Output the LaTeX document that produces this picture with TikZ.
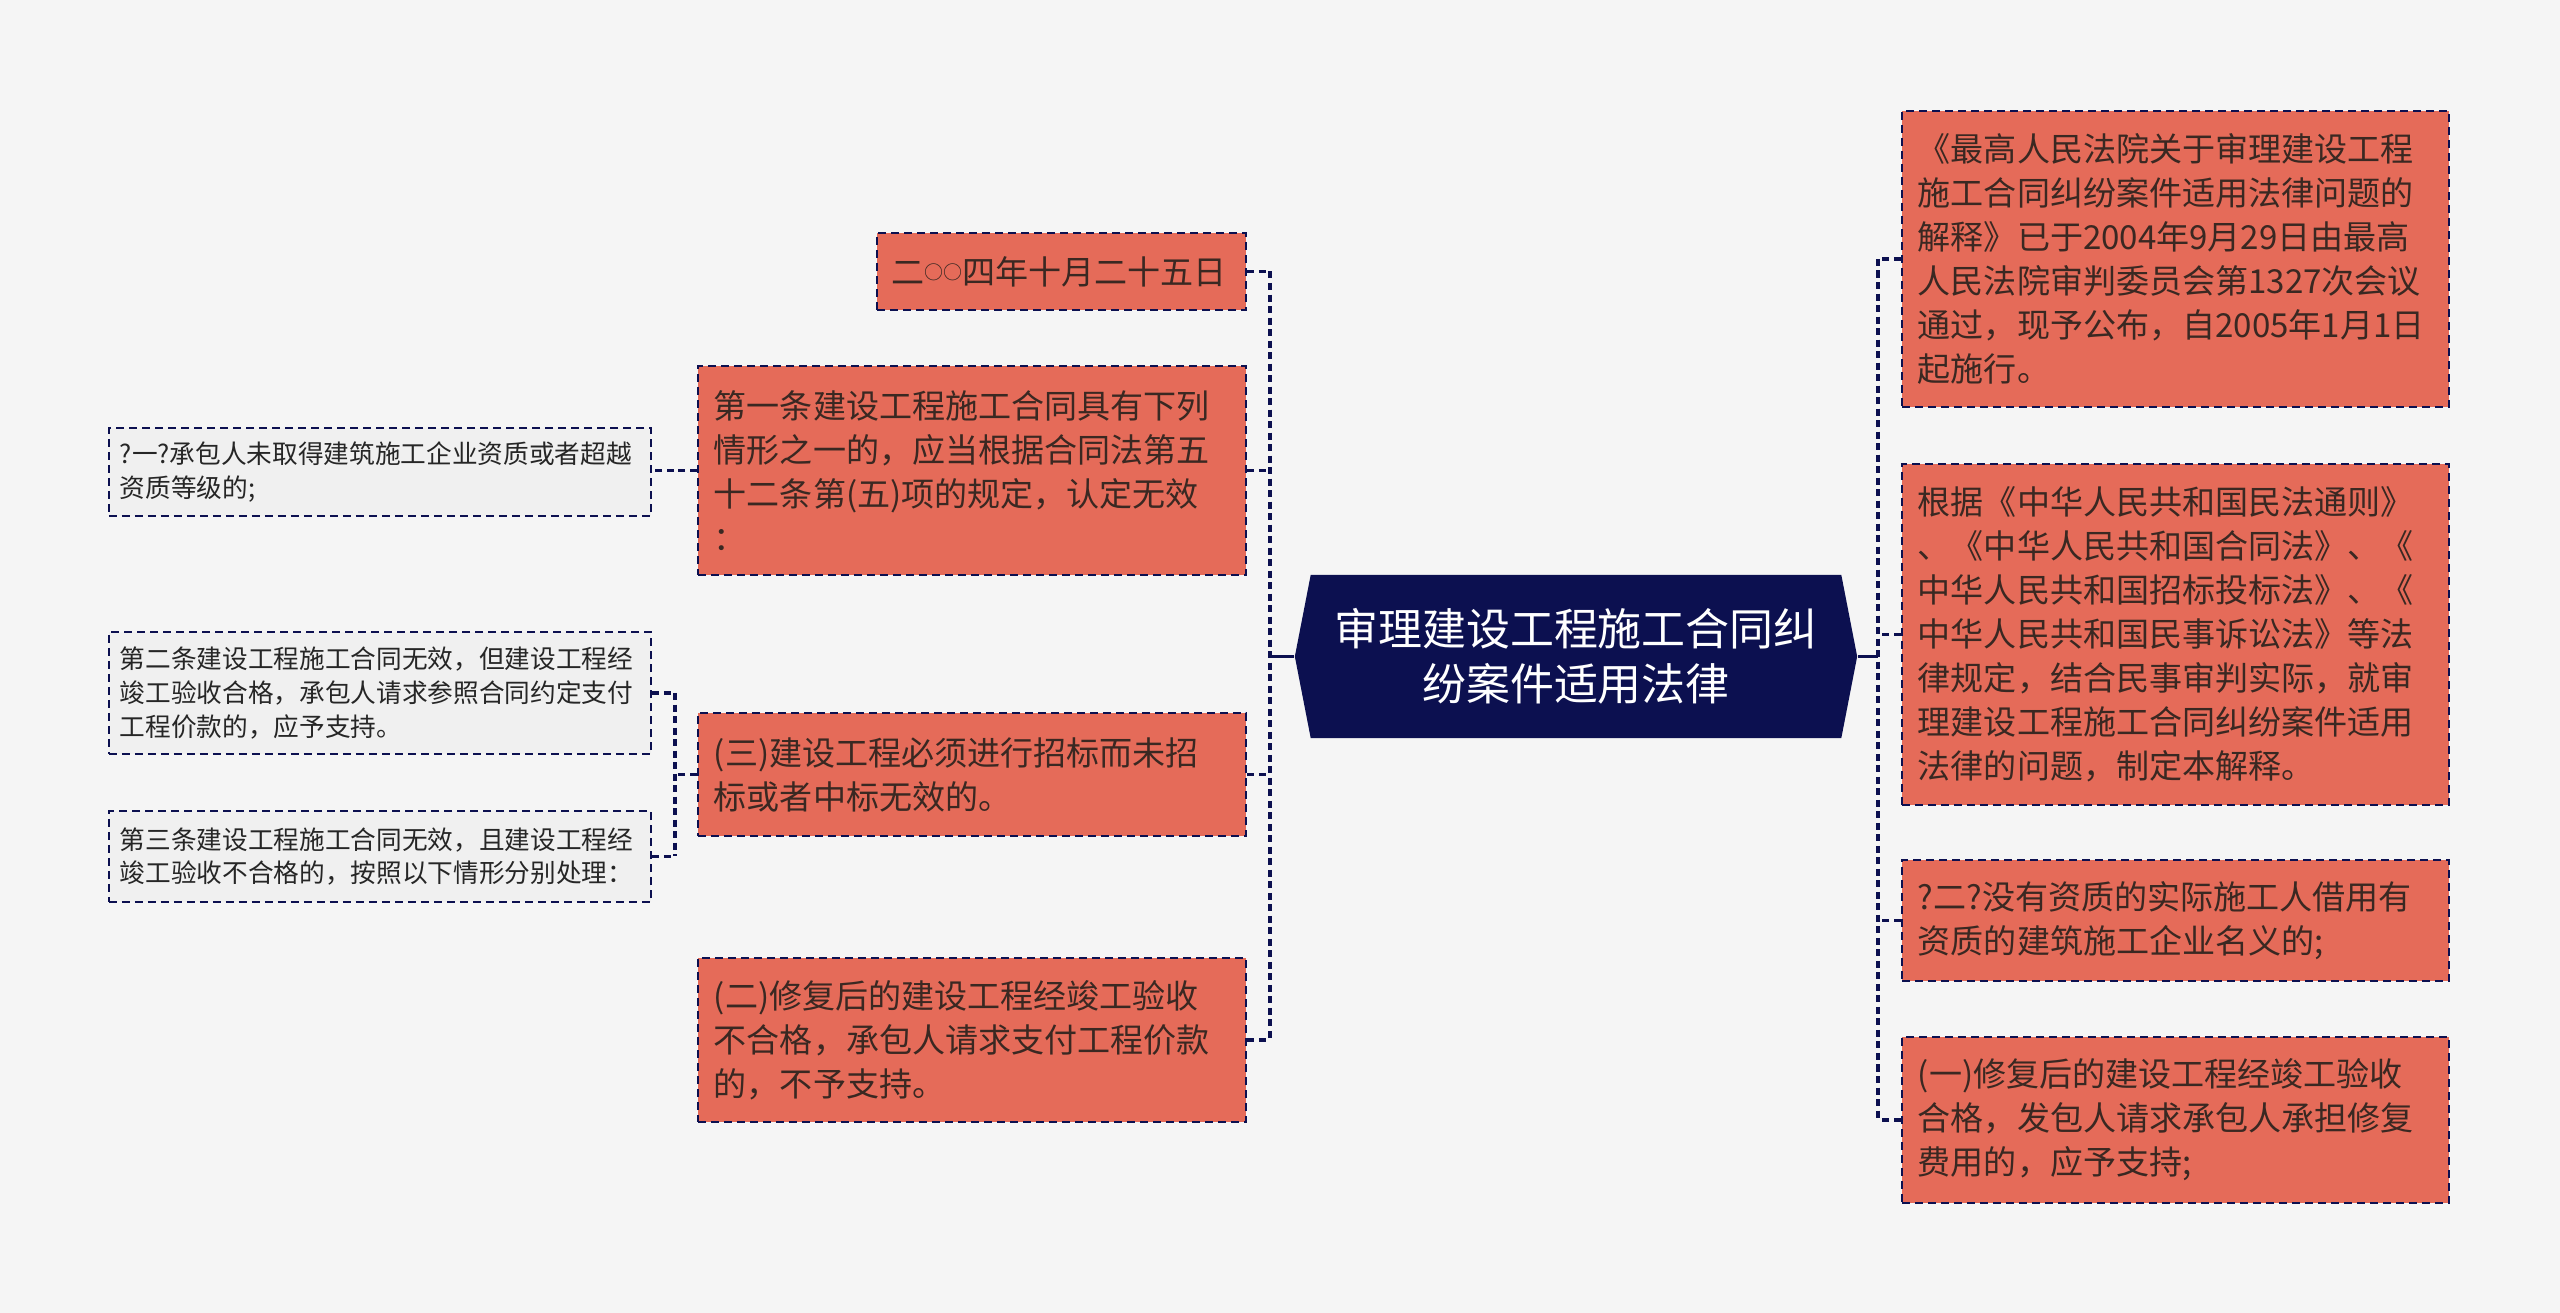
\documentclass[tikz,border=0pt]{standalone}
\usepackage{fontspec}
\setmainfont{Noto Sans CJK SC}
\usetikzlibrary{
    shapes.symbols
}
\definecolor{navy}{RGB}{12,16,80}
\definecolor{brick}{RGB}{229,107,89}
\definecolor{paper}{RGB}{245,245,245}
\definecolor{mist}{RGB}{240,240,240}
\definecolor{ink}{RGB}{58,40,34}
\tikzset{
  every node/.style={
    inner ysep=0pt
  },
  box/.style={
    rectangle,
    draw=navy,
    line width=0.025cm,
    dash pattern=on 0.08cm off 0.05cm,
    align=left
  },
  redbox/.style={
    box,
    fill=brick,
    text=ink,
    inner xsep=0.16cm,
    text width=5.16cm,
    font=\fontsize{9.4pt}{12.5pt}\selectfont
  },
  greybox/.style={
    box,
    fill=mist,
    text=black!85,
    inner xsep=0.11cm,
    text width=5.2cm,
    font=\fontsize{7.3pt}{9.65pt}\selectfont
  },
  rootbox/.style={
    shape=signal,
    signal to=west and east,
    signal pointer angle=158,
    fill=navy,
    text=white,
    align=center,
    minimum width=5.62cm,
    minimum height=1.63cm,
    font=\fontsize{12.5pt}{15.7pt}\selectfont
  },
  link/.style={
    navy,
    line width=0.035cm,
    dash pattern=on 0.07cm off 0.045cm
  },
  stem/.style={
    navy,
    line width=0.035cm
  }
}
\newcommand{\smallo}{\raisebox{1.2pt}{\fontsize{5.4pt}{5.4pt}\selectfont ○○}}

\begin{document}
\begin{tikzpicture}[x=0.01cm, y=-0.01cm]
\useasboundingbox[fill=paper] (0,0) rectangle (2560,1313);

% centre
\node[rootbox] (root) at (1576,656.5) {审理建设工程施工合同纠\\纷案件适用法律};

% left side
\node[redbox, text width=3.4cm, inner xsep=0.145cm, minimum height=0.77cm] (date) at (1061.5,271.5) {二\smallo 四年十月二十五日};
\node[redbox, minimum height=2.09cm] (art1) at (972,470.5) {第一条建设工程施工合同具有下列\\情形之一的，应当根据合同法第五\\十二条第(五)项的规定，认定无效\\：};
\node[redbox, minimum height=1.23cm] (bid) at (972,774.5) {(三)建设工程必须进行招标而未招\\标或者中标无效的。};
\node[redbox, minimum height=1.64cm] (fail) at (972,1040) {(二)修复后的建设工程经竣工验收\\不合格，承包人请求支付工程价款\\的，不予支持。};

\node[greybox, minimum height=0.88cm] (noqual) at (380,472) {?一?承包人未取得建筑施工企业资质或者超越\\资质等级的;};
\node[greybox, minimum height=1.22cm] (art2) at (380,693) {第二条建设工程施工合同无效，但建设工程经\\竣工验收合格，承包人请求参照合同约定支付\\工程价款的，应予支持。};
\node[greybox, minimum height=0.91cm] (art3) at (380,856.5) {第三条建设工程施工合同无效，且建设工程经\\竣工验收不合格的，按照以下情形分别处理：};

% right side
\node[redbox, text width=5.15cm, minimum height=2.96cm] (issued) at (2175.5,259) {《最高人民法院关于审理建设工程\\施工合同纠纷案件适用法律问题的\\解释》已于2004年9月29日由最高\\人民法院审判委员会第1327次会议\\通过，现予公布，自2005年1月1日\\起施行。};
\node[redbox, text width=5.15cm, minimum height=3.41cm] (basis) at (2175.5,634.5) {根据《中华人民共和国民法通则》\\、《中华人民共和国合同法》、《\\中华人民共和国招标投标法》、《\\中华人民共和国民事诉讼法》等法\\律规定，结合民事审判实际，就审\\理建设工程施工合同纠纷案件适用\\法律的问题，制定本解释。};
\node[redbox, text width=5.15cm, minimum height=1.21cm] (borrow) at (2175.5,920.5) {?二?没有资质的实际施工人借用有\\资质的建筑施工企业名义的;};
\node[redbox, text width=5.15cm, minimum height=1.66cm] (repair) at (2175.5,1120) {(一)修复后的建设工程经竣工验收\\合格，发包人请求承包人承担修复\\费用的，应予支持;};

% connectors
\coordinate (lt) at (1270,656.5);
\coordinate (rt) at (1878,656.5);
\coordinate (gt) at (675,774.5);
\draw[stem] (root.west) -- (lt);
\draw[stem] (root.east) -- (rt);
\foreach \n in {date,art1,bid,fail}
  \draw[link] (\n.east) -- (\n.east -| lt);
\draw[link] (date.east -| lt) -- (fail.east -| lt);
\foreach \n in {issued,basis,borrow,repair}
  \draw[link] (\n.west) -- (\n.west -| rt);
\draw[link] (issued.west -| rt) -- (repair.west -| rt);
\draw[link] (art1.west) -- (noqual.east |- art1.west);
\draw[link] (bid.west) -- (gt);
\foreach \n in {art2,art3}
  \draw[link] (\n.east) -- (\n.east -| gt);
\draw[link] (art2.east -| gt) -- (art3.east -| gt);
\end{tikzpicture}
\end{document}
